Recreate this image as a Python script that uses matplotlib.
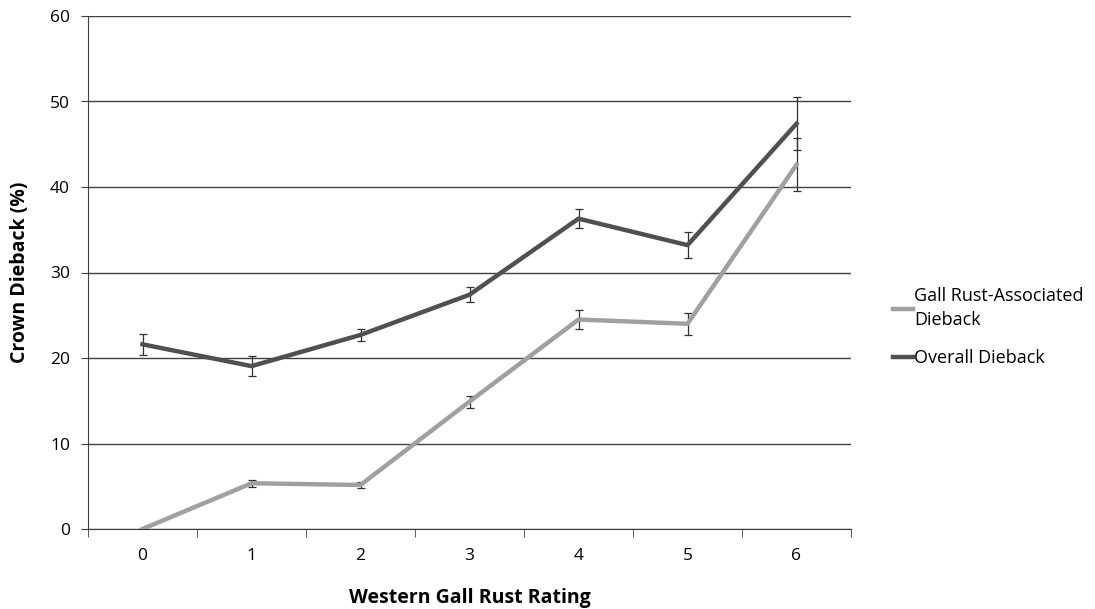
import matplotlib.pyplot as plt
import numpy as np

plt.rcParams['font.family'] = ['Open Sans', 'DejaVu Sans']

ratings = [0, 1, 2, 3, 4, 5, 6]
gall = [0.0, 5.35, 5.15, 14.9, 24.5, 24.0, 42.6]
gall_err = [0.0, 0.4, 0.3, 0.7, 1.1, 1.3, 3.1]
overall = [21.6, 19.05, 22.7, 27.4, 36.3, 33.2, 47.4]
overall_err = [1.2, 1.2, 0.7, 0.9, 1.1, 1.5, 3.1]

fig = plt.figure(figsize=(10.95, 6.09), dpi=100)
ax = fig.add_axes([88/1095, 1 - 529/609, (851-88)/1095, (529-16)/609])

x = np.array(ratings)
ax.errorbar(x, gall, yerr=gall_err, color='#a0a0a0', lw=3.2, ecolor='#303030',
            elinewidth=0.9, capsize=3, capthick=0.9,
            label='Gall Rust-Associated\nDieback', zorder=3)
ax.errorbar(x, overall, yerr=overall_err, color='#505050', lw=3.2, ecolor='#303030',
            elinewidth=0.9, capsize=3, capthick=0.9,
            label='Overall Dieback', zorder=3)

ax.set_xlim(-0.5, 6.5)
ax.set_ylim(0, 60)
ax.set_yticks(range(0, 61, 10))
ax.set_xticks(x)
ax.set_xticks(np.arange(-0.5, 7, 1), minor=True)
ax.tick_params(axis='x', which='major', length=0, labelsize=12.5, pad=14)
ax.tick_params(axis='x', which='minor', length=6, color='#404040')
ax.tick_params(axis='y', length=5, labelsize=12.5, color='#404040', pad=8)
ax.yaxis.grid(True, color='#404040', lw=1)
ax.set_axisbelow(True)
for s in ['top', 'right']:
    ax.spines[s].set_visible(False)
for s in ['left', 'bottom']:
    ax.spines[s].set_color('#404040')

ax.set_xlabel('Western Gall Rust Rating', fontsize=14, fontweight='bold', labelpad=17)
ax.set_ylabel('Crown Dieback (%)', fontsize=14, fontweight='bold', labelpad=14)

handles, labels = ax.get_legend_handles_labels()
handles = [h[0] for h in handles]
leg = fig.legend(handles, labels, loc='center left', bbox_to_anchor=(877/1095, 1 - 327/609),
                 frameon=False, fontsize=13, handlelength=1.1, handletextpad=0.05,
                 labelspacing=1.1)
for t in leg.get_texts():
    t.set_linespacing(1.45)

fig.savefig('out.png', dpi=100)
